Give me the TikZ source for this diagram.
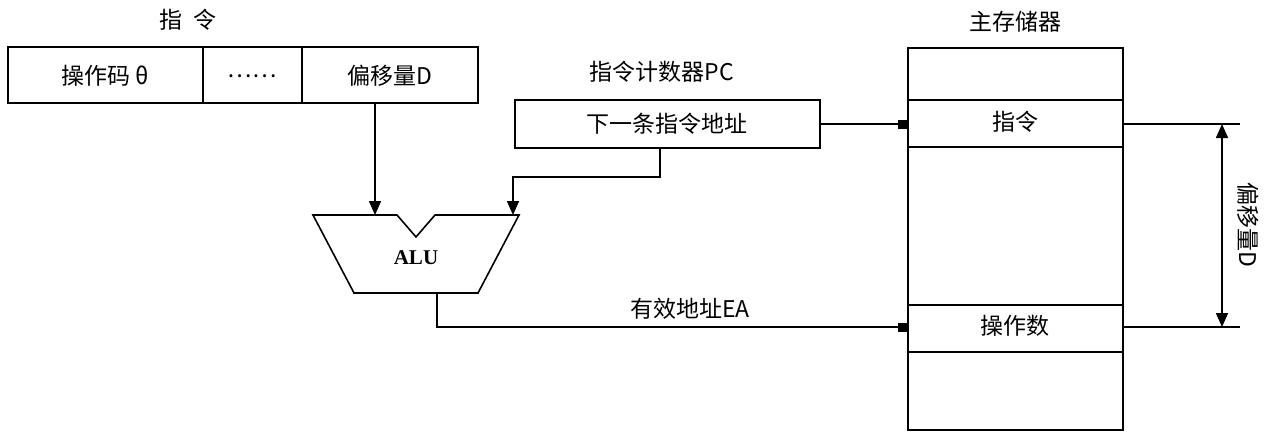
\documentclass[tikz,border=0pt]{standalone}
\usepackage{fontspec}
\setmainfont{Liberation Serif}
\newfontfamily\cjk{Noto Sans CJK SC}
\usetikzlibrary{arrows.meta}
\begin{document}
\begin{tikzpicture}[x=1pt,y=-1pt,line width=1.6pt,
  txt/.style={font=\cjk\fontsize{23}{25}\selectfont,inner sep=0},
  arr/.style={-{Triangle[length=14pt,width=12pt]}},
  arrs/.style={-{Rectangle[length=10pt,width=9pt]}}]
\useasboundingbox (0,0) rectangle (1280,436);
% instruction
\node[txt] (tI) at (188,20) {指\ \ 令};
\draw (8,47) rectangle (478,103);
\draw (203,47) -- (203,103) (302,47) -- (302,103);
\node[txt] (op) at (105,76) {操作码 θ};
\node[txt] (dots) at (252,76) {……};
\node[txt] (off) at (390,76) {偏移量D};
% PC
\node[txt] (tPC) at (662,72) {指令计数器PC};
\draw (515,100) rectangle (820,148);
\node[txt] (pc) at (667,124) {下一条指令地址};
% ALU
\draw (313,215) -- (397,215) -- (416,237) -- (435,215) -- (519,215) -- (478,293) -- (354,293) -- cycle;
\node[inner sep=0,font=\bfseries\fontsize{21}{22}\selectfont] (alu) at (416,258) {ALU};
\coordinate (aluIn1) at (375,215);
\coordinate (aluIn2) at (513,215);
\draw[arr] (375,103) -- (aluIn1);
\draw[arr] (660,148) |- (513,177) -- (aluIn2);
% memory
\node[txt] (tM) at (1015,22) {主存储器};
\draw (908,48) rectangle (1123,430);
\draw (908,100) -- (1123,100) (908,147) -- (1123,147);
\draw (908,305) -- (1123,305) (908,352) -- (1123,352);
\node[txt] (m1) at (1015,122) {指令};
\node[txt] (m2) at (1015,326) {操作数};
\draw[arrs] (820,124) -- (908,124);
\draw[arrs] (437,293) |- (908,327);
\node[txt] (ea) at (690,309) {有效地址EA};
% offset
\draw (1123,124) -- (1240,124) (1123,327) -- (1240,327);
\draw[{Triangle[length=14pt,width=12pt]}-{Triangle[length=14pt,width=12pt]}] (1222,124) -- (1222,327);
\node[txt,rotate=-90] (od) at (1248,225) {偏移量D};
\end{tikzpicture}
\end{document}
